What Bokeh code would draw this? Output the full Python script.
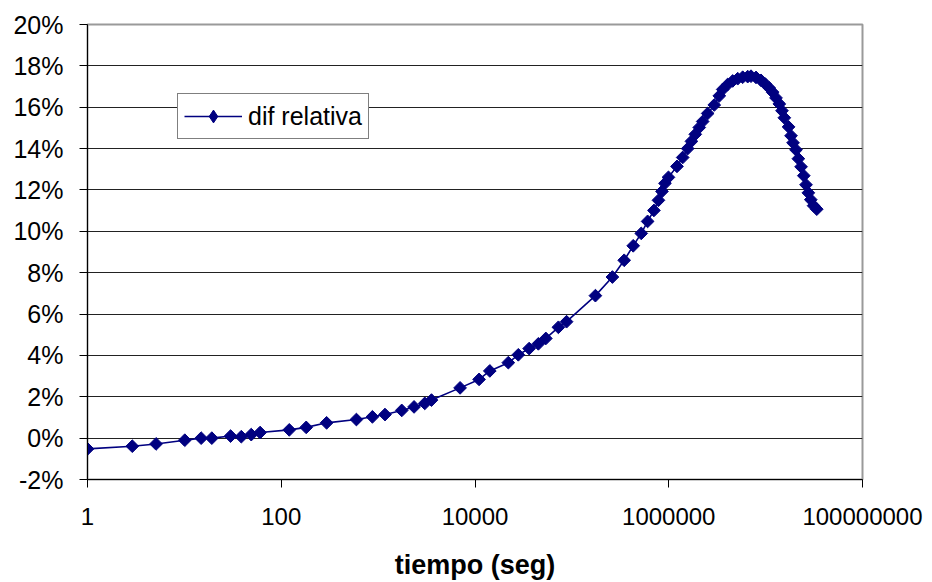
import numpy as np
from bokeh.plotting import figure
from bokeh.models import (ColumnDataSource, FixedTicker, NumeralTickFormatter,
                          PrintfTickFormatter, Legend, LegendItem)
from bokeh.embed import file_html
from bokeh.resources import INLINE

# tiempo (seg)
tiempo = [1, 2.9, 5.1, 10.1, 14.9, 19.2, 30, 38.7, 49, 60.5,
          121, 181, 294, 597, 873, 1178, 1753, 2349, 3030, 3555,
          7015, 11020, 14220, 22080, 28000, 36220, 45080, 53850, 72580, 88150,
          175000, 262000, 346700, 429700, 520000, 605000, 703000, 783000, 851000, 914000,
          993000, 1216000, 1393000, 1568000, 1714000, 1879000, 2065000, 2240000, 2523000, 2951000,
          3327000, 3605000, 4059000, 4570000, 5150000, 5800000, 6530000, 7065000,
          7960000, 8960000, 9930000, 10920000, 11840000, 12800000, 13860000, 14760000,
          15600000, 17250000, 18290000, 19190000, 20600000, 21780000, 23220000, 24770000,
          26120000, 27610000, 29240000, 31260000, 33730000]
# dif relativa (%)
dif_relativa = [-0.52, -0.39, -0.28, -0.10, 0.00, 0.00, 0.10, 0.07, 0.17, 0.27,
                0.40, 0.52, 0.74, 0.90, 1.03, 1.14, 1.34, 1.51, 1.68, 1.84,
                2.43, 2.84, 3.25, 3.65, 4.03, 4.33, 4.56, 4.82, 5.36, 5.63,
                6.89, 7.79, 8.60, 9.30, 9.90, 10.48, 11.01, 11.50, 11.93, 12.32,
                12.61, 13.14, 13.57, 14.00, 14.35, 14.69, 15.02, 15.31, 15.70, 16.11,
                16.55, 16.86, 17.10, 17.27, 17.38, 17.45, 17.48, 17.50,
                17.44, 17.30, 17.12, 16.93, 16.72, 16.45, 16.16, 15.83,
                15.49, 15.05, 14.62, 14.28, 13.94, 13.51, 13.12, 12.69,
                12.25, 11.86, 11.53, 11.24, 11.07]

x_ticks = [1, 100, 10000, 1000000, 100000000]
y_ticks = [-2, 0, 2, 4, 6, 8, 10, 12, 14, 16, 18, 20]
series_name = "dif relativa"
x_title = "tiempo (seg)"

FONT = "Liberation Sans"
NAVY = "#000080"

src = ColumnDataSource(dict(x=tiempo, y=dif_relativa))

p = figure(width=932, height=582, x_axis_type="log",
           x_range=(1, 1e8), y_range=(-2, 20),
           output_backend="svg", toolbar_location=None,
           min_border_left=87, min_border_right=70,
           min_border_top=24, min_border_bottom=103)

p.background_fill_color = "white"
p.border_fill_color = "white"
p.outline_line_color = "#9a9a9a"
p.outline_line_width = 2

r_line = p.line("x", "y", source=src, line_color=NAVY, line_width=1.6)
r_pts = p.scatter("x", "y", source=src, marker="square", size=9,
                  angle=np.pi / 4, fill_color=NAVY, line_color=NAVY)
# diamond glyph used for the legend sample (sits under the first marker)
r_leg = p.scatter(x=tiempo[:1], y=dif_relativa[:1], marker="diamond", size=11,
                  fill_color=NAVY, line_color=NAVY)

# grid
p.xgrid.grid_line_color = None
p.ygrid.ticker = FixedTicker(ticks=y_ticks)
p.ygrid.grid_line_color = "#222222"
p.ygrid.grid_line_width = 1

# x axis
xa = p.xaxis[0]
xa.ticker = FixedTicker(ticks=x_ticks, minor_ticks=[])
xa.formatter = NumeralTickFormatter(format="0")
xa.axis_line_color = "black"
xa.major_tick_line_color = "black"
xa.major_tick_out = 8
xa.major_tick_in = 0
xa.minor_tick_line_color = None
xa.major_label_text_font = FONT
xa.major_label_text_font_size = "24px"
xa.major_label_text_color = "black"
xa.major_label_standoff = 20
xa.axis_label = x_title
xa.axis_label_text_font = FONT
xa.axis_label_text_font_style = "bold"
xa.axis_label_text_font_size = "27px"
xa.axis_label_text_color = "black"
xa.axis_label_standoff = 22

# y axis
ya = p.yaxis[0]
ya.ticker = FixedTicker(ticks=y_ticks, minor_ticks=[])
ya.formatter = PrintfTickFormatter(format="%d%%")
ya.axis_line_color = "black"
ya.major_tick_line_color = "black"
ya.major_tick_out = 8
ya.major_tick_in = 0
ya.minor_tick_line_color = None
ya.major_label_text_font = FONT
ya.major_label_text_font_size = "25px"
ya.major_label_text_color = "black"
ya.major_label_standoff = 16

legend = Legend(items=[LegendItem(label=series_name, renderers=[r_line, r_leg])],
                location=(90, 340))
legend.label_text_font = FONT
legend.label_text_font_size = "25px"
legend.label_text_color = "black"
legend.border_line_color = "black"
legend.border_line_width = 1
legend.background_fill_color = "white"
legend.background_fill_alpha = 1
legend.glyph_width = 58
legend.glyph_height = 32
legend.padding = 6
legend.margin = 0
legend.label_standoff = 6
p.add_layout(legend, "center")

open("out.html", "w").write(file_html(p, INLINE))
